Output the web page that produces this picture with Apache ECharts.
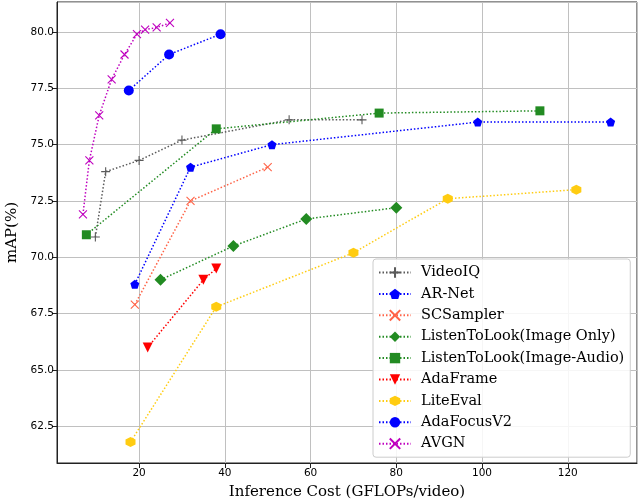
<!DOCTYPE html>
<html>
<head>
<meta charset="utf-8">
<script src="https://cdn.jsdelivr.net/npm/echarts@6/dist/echarts.min.js"></script>
<style>html,body{margin:0;padding:0;background:#fff}#c{width:640px;height:500px}</style>
</head>
<body>
<div id="c"></div>
<script>
// Data (x: GFLOPs/video, y: mAP %)
const seriesNames = ['VideoIQ','AR-Net','SCSampler','ListenToLook(Image Only)','ListenToLook(Image-Audio)','AdaFrame','LiteEval','AdaFocusV2','AVGN'];
const videoIQ = [[9.8,70.9],[12.2,73.8],[20,74.3],[30,75.2],[55,76.1],[72,76.1]];
const arNet = [[19,68.8],[32,74.0],[51,75.0],[99,76.0],[130,76.0]];
const scSampler = [[19,67.9],[32,72.5],[50,74.0]];
const ltlImage = [[25,69.0],[42,70.5],[59,71.7],[80,72.2]];
const ltlAudio = [[7.7,71.0],[38,75.7],[76,76.4],[113.5,76.5]];
const adaFrame = [[22,66.0],[35,69.0],[38,69.5]];
const liteEval = [[18,61.8],[38,67.8],[70,70.2],[92,72.6],[122,73.0]];
const adaFocusV2 = [[17.6,77.4],[27,79.0],[39,79.9]];
const avgn = [[6.9,71.9],[8.4,74.3],[10.7,76.3],[13.6,77.9],[16.6,79.0],[19.5,79.9],[21.4,80.1],[24.1,80.2],[27.2,80.4]];
const xTicks = [20,40,60,80,100,120];
const yTicks = [62.5,65.0,67.5,70.0,72.5,75.0,77.5,80.0];

const PENT = 'path://M0,-1L0.951,-0.309L0.588,0.809L-0.588,0.809L-0.951,-0.309Z';
const HEX = 'path://M0,-1L0.866,-0.5L0.866,0.5L0,1L-0.866,0.5L-0.866,-0.5Z';
const XS = 'path://M0,0L1,1M1,0L0,1';
const PLUS = 'path://M0.5,0L0.5,1M0,0.5L1,0.5';

function mk(name, data, color, symbol, size, opts) {
  opts = opts || {};
  const stroke = opts.stroke || 0;
  return {
    name: name, type: 'line', data: data,
    symbol: symbol, symbolSize: size, symbolRotate: opts.rotate || 0,
    showSymbol: true, animation: false,
    lineStyle: {color: color, width: 1.5, type: [1.5, 2]},
    itemStyle: {color: color, borderColor: color, borderWidth: stroke},
    emphasis: {disabled: true}
  };
}

const series = [
  mk(seriesNames[0], videoIQ, '#5a5a5a', PLUS, 9, {stroke: 1.1}),
  mk(seriesNames[1], arNet, '#0000ff', PENT, 9),
  mk(seriesNames[2], scSampler, '#ff6347', XS, 8, {stroke: 1.1}),
  mk(seriesNames[3], ltlImage, '#228b22', 'diamond', 12),
  mk(seriesNames[4], ltlAudio, '#228b22', 'rect', 9),
  mk(seriesNames[5], adaFrame, '#ff0000', 'triangle', 10, {rotate: 180}),
  mk(seriesNames[6], liteEval, '#ffcc11', HEX, 10),
  mk(seriesNames[7], adaFocusV2, '#0000ff', 'circle', 10),
  mk(seriesNames[8], avgn, '#bf00bf', XS, 8, {stroke: 1.1})
];

const chart = echarts.init(document.getElementById('c'), null, {renderer: 'canvas'});
chart.setOption({
  animation: false,
  backgroundColor: '#fff',
  grid: {left: 57, right: 3, top: 2, bottom: 37, outerBoundsMode: 'none', containLabel: false,
    show: true, borderColor: '#222', borderWidth: 1, backgroundColor: 'transparent'},
  xAxis: {
    type: 'value', min: 0.85, max: 136.15, minInterval: 20, maxInterval: 20,
    name: 'Inference Cost (GFLOPs/video)', nameLocation: 'middle', nameGap: 22,
    nameTextStyle: {fontFamily: 'DejaVu Serif', fontSize: 15, color: '#000'},
    axisLine: {show: true, lineStyle: {color: '#222', width: 1}},
    axisTick: {show: true, inside: false, length: 5, lineStyle: {color: '#222'}},
    axisLabel: {fontFamily: 'DejaVu Sans', fontSize: 10.5, color: '#000', margin: 5,
      showMinLabel: false, showMaxLabel: false,
      formatter: v => xTicks.indexOf(Math.round(v*1000)/1000) >= 0 ? String(v) : ''},
    splitLine: {show: true, lineStyle: {color: '#c0c0c0', width: 1}}
  },
  yAxis: {
    type: 'value', min: 60.87, max: 81.33, minInterval: 2.5, maxInterval: 2.5,
    name: 'mAP(%)', nameLocation: 'middle', nameGap: 35, nameRotate: 90,
    nameTextStyle: {fontFamily: 'DejaVu Serif', fontSize: 15, color: '#000'},
    axisLine: {show: true, lineStyle: {color: '#222', width: 1}},
    axisTick: {show: true, inside: false, length: 5, lineStyle: {color: '#222'}},
    axisLabel: {fontFamily: 'DejaVu Sans', fontSize: 10.5, color: '#000', margin: 3,
      showMinLabel: false, showMaxLabel: false,
      formatter: v => yTicks.indexOf(Math.round(v*1000)/1000) >= 0 ? Number(v).toFixed(1) : ''},
    splitLine: {show: true, lineStyle: {color: '#c0c0c0', width: 1}}
  },
  legend: {
    orient: 'vertical', left: 373, top: 259,
    padding: [6, 6, 6, 5],
    itemWidth: 32, itemHeight: 13, itemGap: 6.4,
    backgroundColor: 'rgba(255,255,255,0.85)', borderColor: '#cccccc', borderWidth: 1, borderRadius: 3,
    textStyle: {fontFamily: 'DejaVu Serif', fontSize: 14.5, color: '#000', padding: [0,0,0,5]},
    data: seriesNames
  },
  series: series
});
</script>
</body>
</html>
